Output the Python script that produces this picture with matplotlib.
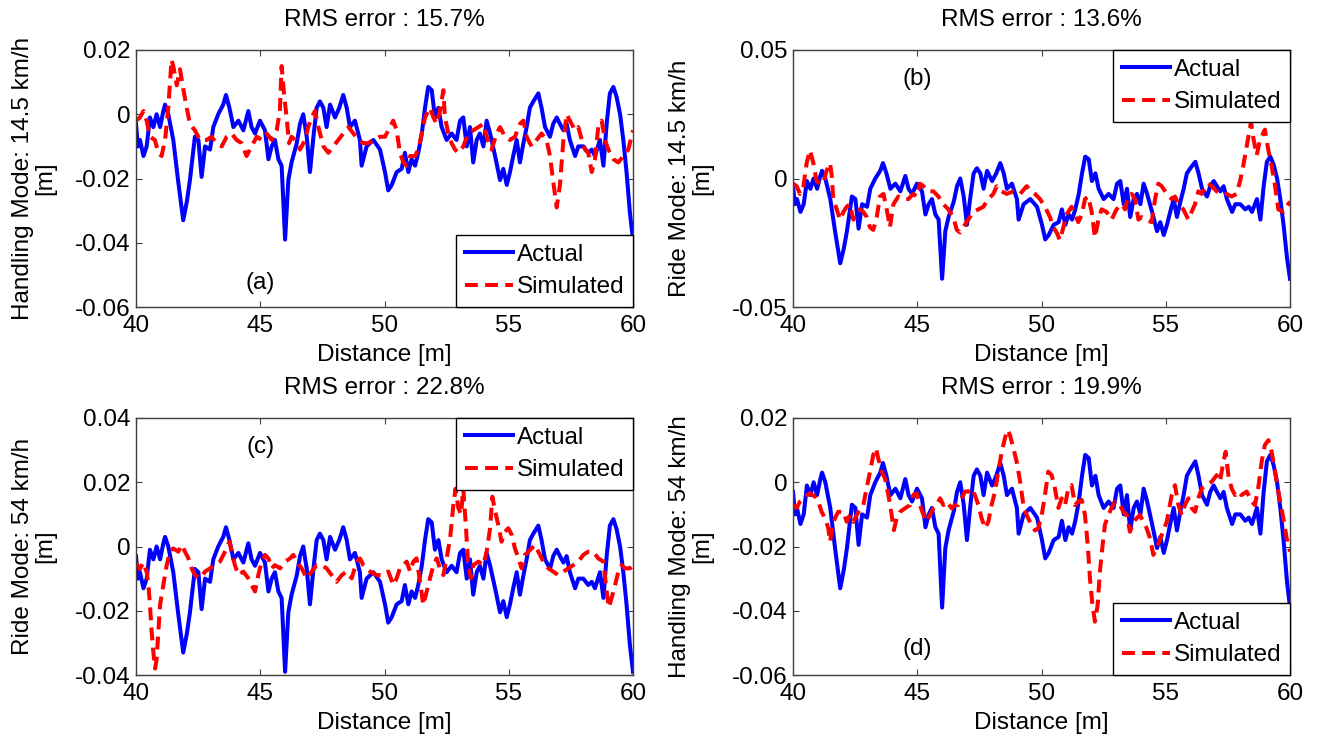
import matplotlib
matplotlib.use('Agg')
import matplotlib.pyplot as plt

plt.rcParams['font.family'] = ['Liberation Sans', 'DejaVu Sans']

# ---------------- data ----------------
act_x = [40.00, 40.08, 40.16, 40.30, 40.43, 40.56, 40.70, 40.83, 40.97, 41.10, 41.17, 41.30,
         41.50, 41.70, 41.90, 42.05, 42.17, 42.37, 42.51, 42.64, 42.78, 42.98, 43.11, 43.31,
         43.51, 43.62, 43.76, 43.92, 44.12, 44.32, 44.52, 44.65, 44.79, 44.99, 45.19, 45.33,
         45.46, 45.59, 45.73, 45.86, 46.00, 46.13, 46.26, 46.47, 46.60, 46.73, 46.87, 47.00,
         47.14, 47.27, 47.40, 47.54, 47.67, 47.81, 48.01, 48.18, 48.34, 48.48, 48.61, 48.81,
         49.01, 49.08, 49.28, 49.55, 49.82, 50.02, 50.15, 50.29, 50.49, 50.69, 50.82, 50.96,
         51.09, 51.23, 51.36, 51.50, 51.63, 51.76, 51.90, 52.03, 52.17, 52.30, 52.50, 52.70,
         52.90, 53.04, 53.17, 53.31, 53.44, 53.57, 53.71, 53.84, 53.98, 54.11, 54.25, 54.45,
         54.65, 54.78, 54.92, 55.05, 55.18, 55.32, 55.45, 55.59, 55.72, 55.85, 55.99, 56.19,
         56.32, 56.46, 56.66, 56.79, 56.93, 57.06, 57.20, 57.33, 57.46, 57.67, 57.80, 58.00,
         58.20, 58.34, 58.47, 58.67, 58.81, 58.94, 59.07, 59.21, 59.34, 59.48, 59.61, 59.74,
         59.88, 60.00]
act_y = [-0.003, -0.010, -0.008, -0.013, -0.010, -0.001, -0.004, 0.000, -0.004, 0.001, 0.003, 0.000,
         -0.008, -0.021, -0.033, -0.027, -0.0205, -0.007, -0.008, -0.0195, -0.010, -0.011, -0.004, 0.000,
         0.003, 0.006, 0.002, -0.004, -0.002, -0.005, 0.001, -0.004, -0.006, -0.002, -0.005, -0.014,
         -0.010, -0.008, -0.014, -0.016, -0.039, -0.0205, -0.015, -0.009, -0.003, 0.000, -0.007, -0.018,
         -0.007, 0.002, 0.004, 0.002, -0.004, 0.003, -0.001, 0.002, 0.006, 0.002, -0.004, -0.002,
         -0.008, -0.016, -0.010, -0.008, -0.011, -0.018, -0.0237, -0.022, -0.018, -0.017, -0.012, -0.018,
         -0.014, -0.016, -0.012, -0.006, 0.002, 0.0085, 0.0075, -0.001, 0.002, -0.004, -0.008, -0.006,
         -0.008, -0.002, -0.001, -0.010, -0.004, -0.015, -0.008, -0.006, -0.010, -0.002, -0.006, -0.013,
         -0.0205, -0.017, -0.022, -0.018, -0.013, -0.008, -0.015, -0.009, -0.004, 0.002, 0.004, 0.0065,
         0.002, -0.004, -0.007, -0.003, -0.001, -0.003, -0.005, -0.003, -0.008, -0.013, -0.010, -0.010,
         -0.012, -0.011, -0.013, -0.008, -0.016, -0.003, 0.0065, 0.0085, 0.0054, 0.000, -0.008, -0.018,
         -0.031, -0.039]

sim_a_x = [40.00, 40.16, 40.30, 40.43, 40.56, 40.76, 40.90, 41.03, 41.17, 41.30, 41.43, 41.50,
           41.64, 41.77, 41.90, 42.04, 42.17, 42.37, 42.57, 42.84, 43.04, 43.24, 43.45, 43.65,
           43.85, 44.05, 44.25, 44.45, 44.65, 44.86, 45.06, 45.26, 45.46, 45.66, 45.79, 45.86,
           45.96, 46.06, 46.16, 46.26, 46.40, 46.60, 46.80, 46.93, 47.07, 47.20, 47.34, 47.54,
           47.74, 47.94, 48.14, 48.34, 48.55, 48.75, 48.95, 49.15, 49.35, 49.55, 49.82, 50.02,
           50.22, 50.35, 50.49, 50.62, 50.76, 50.89, 51.03, 51.23, 51.36, 51.50, 51.63, 51.83,
           51.97, 52.10, 52.23, 52.37, 52.43, 52.57, 52.70, 52.84, 52.97, 53.17, 53.37, 53.57,
           53.78, 53.98, 54.11, 54.31, 54.51, 54.65, 54.85, 55.05, 55.25, 55.45, 55.59, 55.72,
           55.92, 56.12, 56.32, 56.52, 56.66, 56.79, 56.93, 57.06, 57.20, 57.33, 57.46, 57.67,
           57.80, 57.94, 58.07, 58.20, 58.34, 58.47, 58.60, 58.74, 58.87, 59.01, 59.21, 59.41,
           59.61, 59.81, 60.00]
sim_a_y = [-0.002, -0.001, 0.001, -0.002, -0.007, -0.008, -0.012, -0.013, -0.008, 0.002, 0.017, 0.015,
           0.009, 0.014, 0.008, 0.002, -0.003, -0.005, -0.008, -0.008, -0.007, -0.009, -0.010, -0.007,
           -0.006, -0.008, -0.009, -0.013, -0.010, -0.007, -0.008, -0.006, -0.008, -0.005, 0.001, 0.015,
           0.006, -0.001, -0.009, -0.007, -0.008, -0.011, -0.008, -0.004, -0.001, 0.001, -0.004, -0.010,
           -0.012, -0.010, -0.008, -0.006, -0.004, -0.006, -0.008, -0.009, -0.009, -0.008, -0.007, -0.007,
           -0.004, -0.002, -0.005, -0.012, -0.015, -0.016, -0.013, -0.013, -0.011, -0.006, -0.001, 0.002,
           -0.001, -0.003, 0.001, 0.0075, -0.001, -0.006, -0.009, -0.011, -0.012, -0.010, -0.006, -0.005,
           -0.004, -0.003, -0.007, -0.011, -0.006, -0.004, -0.007, -0.008, -0.007, -0.003, -0.002, -0.007,
           -0.010, -0.008, -0.006, -0.008, -0.013, -0.021, -0.029, -0.022, -0.008, 0.000, -0.002, -0.005,
           -0.004, -0.008, -0.011, -0.012, -0.018, -0.014, -0.004, -0.002, -0.008, -0.011, -0.014, -0.015,
           -0.013, -0.011, -0.005]

sim_b_x = [40.00, 40.15, 40.28, 40.42, 40.55, 40.68, 40.82, 40.95, 41.09, 41.22, 41.35, 41.49,
           41.56, 41.62, 41.76, 41.89, 42.03, 42.16, 42.29, 42.43, 42.56, 42.70, 42.83, 42.97,
           43.10, 43.23, 43.37, 43.50, 43.64, 43.77, 43.90, 44.04, 44.24, 44.44, 44.64, 44.84,
           44.98, 45.11, 45.25, 45.45, 45.65, 45.85, 46.05, 46.25, 46.45, 46.59, 46.72, 46.85,
           47.05, 47.26, 47.46, 47.66, 47.86, 48.06, 48.20, 48.40, 48.60, 48.87, 49.14, 49.40,
           49.74, 49.94, 50.14, 50.34, 50.48, 50.61, 50.74, 50.88, 51.01, 51.21, 51.35, 51.48,
           51.62, 51.75, 51.88, 52.02, 52.15, 52.29, 52.42, 52.62, 52.82, 53.02, 53.23, 53.36,
           53.49, 53.63, 53.76, 53.90, 54.03, 54.23, 54.43, 54.57, 54.70, 54.84, 55.04, 55.24,
           55.37, 55.51, 55.71, 55.91, 56.04, 56.18, 56.31, 56.45, 56.58, 56.71, 56.85, 57.05,
           57.25, 57.45, 57.65, 57.85, 57.99, 58.12, 58.32, 58.43, 58.52, 58.66, 58.79, 58.99,
           59.13, 59.26, 59.40, 59.53, 59.73, 59.93, 60.00]
sim_b_y = [-0.002, -0.003, -0.006, -0.003, 0.006, 0.011, 0.006, -0.001, -0.002, -0.002, 0.003, 0.006,
           0.001, -0.008, -0.012, -0.016, -0.013, -0.011, -0.010, -0.016, -0.013, -0.012, -0.013, -0.015,
           -0.019, -0.020, -0.015, -0.007, -0.006, -0.012, -0.019, -0.010, -0.007, -0.008, -0.008, -0.006,
           -0.007, -0.002, -0.003, -0.005, -0.005, -0.007, -0.010, -0.012, -0.015, -0.020, -0.021, -0.019,
           -0.016, -0.013, -0.012, -0.011, -0.008, -0.006, -0.003, -0.005, -0.006, -0.005, -0.006, -0.003,
           -0.006, -0.008, -0.011, -0.015, -0.019, -0.021, -0.024, -0.019, -0.014, -0.011, -0.014, -0.017,
           -0.014, -0.008, -0.007, -0.013, -0.023, -0.016, -0.012, -0.013, -0.016, -0.012, -0.010, -0.012,
           -0.007, -0.006, -0.008, -0.016, -0.015, -0.016, -0.017, -0.008, -0.002, -0.003, -0.006, -0.008,
           -0.007, -0.010, -0.012, -0.016, -0.013, -0.010, -0.005, -0.006, -0.003, -0.002, -0.003, -0.005,
           -0.006, -0.006, -0.007, -0.006, -0.001, 0.005, 0.016, 0.022, 0.016, 0.009, 0.015, 0.019,
           0.011, 0.005, -0.003, -0.012, -0.013, -0.010, -0.009]

sim_c_x = [40.00, 40.16, 40.29, 40.43, 40.50, 40.56, 40.63, 40.70, 40.77, 40.83, 40.90, 40.97,
           41.10, 41.23, 41.37, 41.50, 41.70, 41.84, 41.97, 42.11, 42.24, 42.37, 42.58, 42.78,
           42.98, 43.18, 43.38, 43.58, 43.76, 43.85, 43.98, 44.12, 44.32, 44.52, 44.65, 44.79,
           44.92, 45.06, 45.19, 45.33, 45.46, 45.59, 45.80, 46.00, 46.20, 46.33, 46.47, 46.67,
           46.87, 47.07, 47.27, 47.47, 47.67, 47.87, 48.07, 48.28, 48.48, 48.68, 48.88, 49.01,
           49.15, 49.42, 49.68, 49.95, 50.15, 50.36, 50.49, 50.62, 50.76, 50.89, 51.03, 51.16,
           51.29, 51.43, 51.56, 51.70, 51.83, 51.97, 52.10, 52.23, 52.37, 52.50, 52.64, 52.77,
           52.86, 52.97, 53.08, 53.17, 53.27, 53.37, 53.48, 53.57, 53.78, 53.98, 54.11, 54.25,
           54.34, 54.45, 54.58, 54.71, 54.85, 54.98, 55.12, 55.25, 55.39, 55.52, 55.65, 55.79,
           55.92, 56.06, 56.19, 56.39, 56.59, 56.79, 56.99, 57.20, 57.40, 57.60, 57.80, 58.00,
           58.20, 58.40, 58.60, 58.81, 58.94, 59.03, 59.14, 59.28, 59.41, 59.54, 59.68, 59.88,
           60.00]
sim_c_y = [-0.005, -0.007, -0.005, -0.008, -0.012, -0.018, -0.0265, -0.033, -0.038, -0.035, -0.0265, -0.018,
           -0.012, -0.006, -0.0016, -0.0006, -0.0016, 0.0005, -0.0016, -0.0037, -0.0068, -0.0089, -0.0099, -0.0078,
           -0.0068, -0.0058, -0.0047, -0.0016, 0.0015, -0.0016, -0.0058, -0.0089, -0.0078, -0.0099, -0.012, -0.014,
           -0.0089, -0.0047, -0.0026, -0.0037, -0.0068, -0.0058, -0.0068, -0.0047, -0.0037, -0.0026, -0.0047, -0.0068,
           -0.0099, -0.0078, -0.0058, -0.0058, -0.0068, -0.0089, -0.011, -0.0089, -0.0078, -0.0099, -0.0047, -0.0037,
           -0.0058, -0.0078, -0.0089, -0.0089, -0.0078, -0.012, -0.0099, -0.0068, -0.0058, -0.0047, -0.0078, -0.0047,
           -0.0037, -0.0109, -0.0182, -0.014, -0.0099, -0.0058, -0.0037, -0.0068, -0.0089, -0.0037, 0.0025, 0.0129,
           0.018, 0.012, 0.010, 0.018, 0.007, -0.0058, -0.0099, -0.0058, -0.0047, -0.0058, -0.0016, 0.0057,
           0.0155, 0.011, 0.0067, 0.0015, 0.0046, 0.0057, 0.0036, -0.0006, -0.0037, -0.0068, -0.0026, -0.0016,
           -0.0006, 0.0005, -0.0016, -0.0047, -0.0068, -0.0078, -0.0089, -0.0078, -0.0068, -0.0058, -0.0047, -0.0026,
           -0.0016, -0.0016, -0.0037, -0.0047, -0.014, -0.019, -0.016, -0.012, -0.0078, -0.0058, -0.0068, -0.0068,
           -0.0058]

sim_d_x = [40.00, 40.15, 40.28, 40.48, 40.68, 40.89, 41.02, 41.15, 41.29, 41.42, 41.49, 41.60,
           41.69, 41.82, 42.03, 42.16, 42.29, 42.43, 42.63, 42.83, 42.96, 43.10, 43.23, 43.34,
           43.43, 43.57, 43.70, 43.84, 43.97, 44.06, 44.17, 44.31, 44.51, 44.71, 44.84, 44.98,
           45.11, 45.25, 45.38, 45.51, 45.65, 45.78, 45.92, 46.05, 46.18, 46.39, 46.52, 46.65,
           46.79, 46.92, 47.06, 47.19, 47.32, 47.46, 47.59, 47.73, 47.86, 47.99, 48.13, 48.26,
           48.40, 48.53, 48.63, 48.73, 48.87, 49.00, 49.14, 49.27, 49.40, 49.60, 49.74, 49.87,
           50.01, 50.14, 50.27, 50.41, 50.54, 50.68, 50.81, 50.95, 51.08, 51.21, 51.35, 51.48,
           51.62, 51.75, 51.86, 51.95, 52.05, 52.15, 52.26, 52.35, 52.46, 52.55, 52.69, 52.82,
           52.96, 53.16, 53.29, 53.43, 53.56, 53.70, 53.83, 53.96, 54.10, 54.23, 54.37, 54.50,
           54.63, 54.84, 55.04, 55.24, 55.37, 55.51, 55.64, 55.77, 55.91, 56.04, 56.18, 56.31,
           56.45, 56.65, 56.85, 57.05, 57.18, 57.32, 57.41, 57.52, 57.65, 57.79, 57.92, 58.05,
           58.26, 58.46, 58.59, 58.72, 58.86, 58.99, 59.13, 59.26, 59.40, 59.53, 59.73, 59.87,
           60.00]
sim_d_y = [-0.007, -0.008, -0.006, -0.0045, -0.0034, -0.0045, -0.006, -0.0092, -0.0112, -0.0143, -0.0185, -0.0133,
           -0.0112, -0.0092, -0.0092, -0.0123, -0.0102, -0.0123, -0.0092, -0.0071, -0.0019, 0.0033, 0.0085, 0.0106,
           0.0074, 0.0033, 0.0012, -0.004, -0.0102, -0.0149, -0.0112, -0.0092, -0.0081, -0.0071, -0.004, -0.0034,
           -0.0071, -0.0102, -0.0123, -0.0102, -0.0081, -0.0071, -0.005, -0.0071, -0.006, -0.0081, -0.0071, -0.0071,
           -0.005, -0.0029, -0.0029, -0.0019, -0.004, -0.0071, -0.0112, -0.0143, -0.0123, -0.0071, -0.0029, 0.0033,
           0.0095, 0.0137, 0.0163, 0.0147, 0.0106, 0.0064, 0.0002, -0.0071, -0.0102, -0.0133, -0.015, -0.0143,
           -0.0102, -0.004, 0.0033, 0.0022, -0.0019, -0.008, -0.005, -0.0071, -0.0019, -0.0009, -0.0071, -0.006,
           -0.0055, -0.0102, -0.0195, -0.0299, -0.0382, -0.0434, -0.0382, -0.0278, -0.0195, -0.0133, -0.0102, -0.008,
           -0.006, -0.0071, -0.0092, -0.0102, -0.0154, -0.0123, -0.0112, -0.0102, -0.0123, -0.0143, -0.0175, -0.0226,
           -0.0206, -0.0164, -0.0123, -0.004, -0.0009, -0.0071, -0.0102, -0.0071, -0.005, -0.008, -0.0092, -0.005,
           -0.0019, -0.0009, 0.0002, 0.0022, 0.0002, 0.0064, 0.0095, 0.0022, -0.0019, -0.004, -0.0029, -0.004,
           -0.0029, -0.006, -0.0071, -0.0019, 0.0064, 0.0116, 0.0131, 0.0095, 0.0033, -0.0029, -0.0112, -0.0175,
           -0.0216]

titles = ['RMS error : 15.7%', 'RMS error : 13.6%', 'RMS error : 22.8%', 'RMS error : 19.9%']
ylabels = ['Handling Mode: 14.5 km/h\n[m]', 'Ride Mode: 14.5 km/h\n[m]',
           'Ride Mode: 54 km/h\n[m]', 'Handling Mode: 54 km/h\n[m]']
panel_tags = ['(a)', '(b)', '(c)', '(d)']
ytick_vals = [[-0.06, -0.04, -0.02, 0, 0.02], [-0.05, 0, 0.05],
              [-0.04, -0.02, 0, 0.02, 0.04], [-0.06, -0.04, -0.02, 0, 0.02]]
ytick_text = [['-0.06', '-0.04', '-0.02', '0', '0.02'], ['-0.05', '0', '0.05'],
              ['-0.04', '-0.02', '0', '0.02', '0.04'], ['-0.06', '-0.04', '-0.02', '0', '0.02']]
xtick_vals = [40, 45, 50, 55, 60]
series_labels = ['Actual', 'Simulated']
sim_x = [sim_a_x, sim_b_x, sim_c_x, sim_d_x]
sim_y = [sim_a_y, sim_b_y, sim_c_y, sim_d_y]

# ---------------- layout / style ----------------
W, H = 1321, 740
boxes = [(136, 50), (793, 50), (136, 418), (793, 418)]  # left, top in px
aw, ah = 497, 257
legend_loc = ['lower right', 'upper right', 'upper right', 'lower right']
tag_pos = [(45, -0.0525), (45, 0.0387), (45, 0.031), (45, -0.052)]
FS = 17.5
frame_col = '#404040'

fig = plt.figure(figsize=(W / 100, H / 100), dpi=100)

for i in range(4):
    l, t = boxes[i]
    ax = fig.add_axes([l / W, 1 - (t + ah) / H, aw / W, ah / H])
    ax.plot(act_x, act_y, color='#0000FF', lw=2.9, label=series_labels[0], solid_joinstyle='round')
    ax.plot(sim_x[i], sim_y[i], color='#FF0000', lw=2.9, ls=(0, (3.2, 1.8)),
            label=series_labels[1])
    ax.set_xlim(40, 60)
    ax.set_ylim(ytick_vals[i][0], ytick_vals[i][-1])
    ax.set_xticks(xtick_vals)
    ax.set_xticklabels([str(v) for v in xtick_vals])
    ax.set_yticks(ytick_vals[i])
    ax.set_yticklabels(ytick_text[i])
    ax.tick_params(direction='in', length=4, width=0.8, color=frame_col,
                   top=True, right=True, labelsize=FS)
    ax.tick_params(axis='x', pad=6)
    ax.tick_params(axis='y', pad=4)
    for sp in ax.spines.values():
        sp.set_color(frame_col)
        sp.set_linewidth(1.0)
    ax.set_title(titles[i], fontsize=FS, pad=17)
    ax.set_xlabel('Distance [m]', fontsize=FS, labelpad=5)
    ax.set_ylabel(ylabels[i], fontsize=FS, linespacing=1.05)
    ax.yaxis.set_label_coords(-0.16, 0.5)
    ax.text(tag_pos[i][0], tag_pos[i][1], panel_tags[i], fontsize=FS,
            ha='center', va='center')
    leg = ax.legend(loc=legend_loc[i], fontsize=FS, frameon=True, fancybox=False,
                    framealpha=1, edgecolor='black', borderaxespad=0,
                    handlelength=2.0, handletextpad=0.15, labelspacing=0.45,
                    borderpad=0.35)
    leg.get_frame().set_linewidth(1.0)

fig.savefig('out.png', dpi=100)
